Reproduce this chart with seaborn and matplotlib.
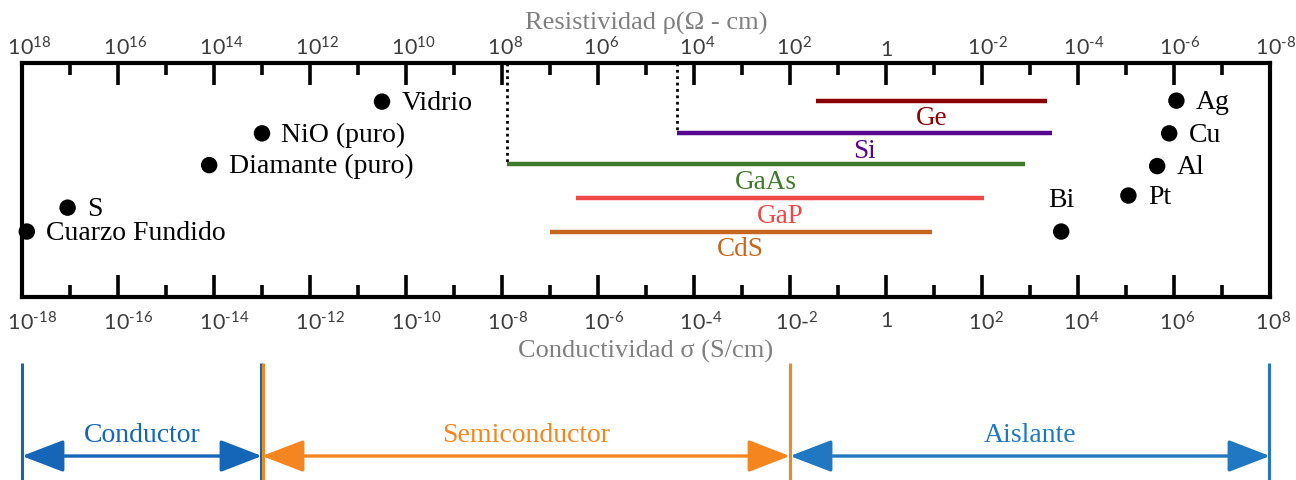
import matplotlib
matplotlib.use("Agg")
import matplotlib.pyplot as plt
import seaborn as sns
import pandas as pd

# ---- data -----------------------------------------------------------------
point_names = ["Cuarzo Fundido", "S", "Diamante (puro)", "NiO (puro)", "Vidrio",
               "Bi", "Pt", "Al", "Cu", "Ag"]
point_log_sigma = [-17.9, -17.05, -14.1, -13.0, -10.5, 3.65, 5.05, 5.65, 5.9, 6.05]

band_names = ["Ge", "Si", "GaAs", "GaP", "CdS"]
band_log_low = [-1.45, -4.35, -7.9, -6.45, -7.0]
band_log_high = [3.35, 3.45, 2.9, 2.05, 0.95]

region_names = ["Conductor", "Semiconductor", "Aislante"]
region_edges = [-18, -13, -2, 8]

decades = list(range(-18, 9))
major_exps = list(range(-18, 9, 2))

# ---- layout / style -------------------------------------------------------
point_rows = [4, 3.27, 1.97, 1, 0.03, 4, 2.9, 2, 1, 0]
band_rows = [0, 1, 1.94, 2.97, 4]
band_colors = ["#8b0000", "#55088f", "#3f7a2a", "#f04848", "#c8651e"]
region_colors = ["#1565b8", "#f5861f", "#1f78c1"]

sns.set_theme(style="white")
plt.rcParams["font.family"] = ["Liberation Serif", "DejaVu Serif"]
plt.rcParams["mathtext.fontset"] = "custom"
plt.rcParams["mathtext.rm"] = "Lato"
plt.rcParams["mathtext.it"] = "Lato:italic"
plt.rcParams["mathtext.bf"] = "Lato:bold"

fig = plt.figure(figsize=(12.96, 4.81), dpi=100)
W, H = 1296, 481
ax = fig.add_axes([22 / W, 1 - 298 / H, (1270 - 22) / W, (298 - 64) / H])
ax.set_xlim(-18, 8)
ax.set_ylim(6.0, -1.15)

# box and ticks
for sp in ax.spines.values():
    sp.set_visible(True)
    sp.set_color("black")
    sp.set_linewidth(3.0)


def _sup_width(s):
    # approximate width of a superscript, in mathtext \hspace units
    em = sum(0.35 if ch == "-" else 0.58 for ch in s) * 0.7
    return em / 0.87


def power_label(e, hyphen_inline=False):
    """'10' centred on the tick, exponent hanging to the right."""
    if e == 0:
        return "1"
    if e < 0 and hyphen_inline:
        exp = str(-e)
        lead = _sup_width(exp) + 0.35 / 0.87
        return r"$\hspace{%.3f}$10-$\mathregular{^{%s}}$" % (lead, exp)
    if e < 0:
        exp = str(-e)
        lead = _sup_width("-" + exp)
        return r"$\hspace{%.3f}$10$\mathregular{^{\text{-}%s}}$" % (lead, exp)
    exp = str(e)
    lead = _sup_width(exp)
    return r"$\hspace{%.3f}$10$\mathregular{^{%s}}$" % (lead, exp)


tick_font = dict(family="Lato", size=15.5)

ax.set_xticks(major_exps, [power_label(e, hyphen_inline=e in (-4, -2)) for e in major_exps])
ax.set_xticks([d for d in decades if d % 2], minor=True)
ax.set_yticks([])
ax.tick_params(axis="x", which="major", direction="in", length=16, width=2.6,
               color="black", bottom=True, top=False, labelcolor="#3c3c3c", pad=9.5)
ax.tick_params(axis="x", which="minor", direction="in", length=8.5, width=2.6,
               color="black", bottom=True, top=False)
for lab in ax.get_xticklabels():
    lab.set_fontproperties(tick_font)
ax.set_xlabel("Conductividad σ (S/cm)", fontsize=19, color="#7f7f7f", labelpad=4)

top = ax.secondary_xaxis("top")
top.set_xticks(major_exps, [power_label(-e) for e in major_exps])
top.set_xticks([d for d in decades if d % 2], minor=True)
top.tick_params(axis="x", which="major", direction="in", length=16, width=2.6,
                color="black", labelcolor="#3c3c3c", pad=3)
top.tick_params(axis="x", which="minor", direction="in", length=8.5, width=2.6,
                color="black")
for lab in top.get_xticklabels():
    lab.set_fontproperties(tick_font)
top.spines["top"].set_visible(False)
top.set_xlabel("Resistividad ρ(Ω - cm)", fontsize=19, color="#7f7f7f", labelpad=5)

# materials with a single value
pts = pd.DataFrame({"name": point_names, "logsigma": point_log_sigma, "row": point_rows})
sns.scatterplot(data=pts, x="logsigma", y="row", ax=ax, color="black", s=140,
                edgecolor="none", clip_on=False, zorder=5, legend=False)
for name, x, y in zip(point_names, point_log_sigma, point_rows):
    if name == "Bi":
        ax.annotate(name, (x, y), xytext=(0, 23), textcoords="offset points",
                    ha="center", va="center", fontsize=20, color="black")
    else:
        ax.annotate(name, (x, y), xytext=(14, -0.5), textcoords="offset points",
                    ha="left", va="center", fontsize=20, color="black")

# semiconductor ranges
for name, lo, hi, y, c in zip(band_names, band_log_low, band_log_high, band_rows, band_colors):
    ax.hlines(y, lo, hi, color=c, lw=3.2, zorder=3)
    ax.annotate(name, ((lo + hi) / 2, y), xytext=(0, -12.5), textcoords="offset points",
                ha="center", va="center", fontsize=19.5, color=c)

# dotted drops from the top axis to the lower ends of Si and GaAs
for name in ("Si", "GaAs"):
    i = band_names.index(name)
    ax.vlines(band_log_low[i], ax.get_ylim()[1], band_rows[i], colors="black",
              linestyles=(0, (1, 1.3)), lw=2.0, zorder=2)

# classification bands underneath
axb = fig.add_axes([22 / W, 0, (1270 - 22) / W, (481 - 364) / H], sharex=ax)
axb.set_ylim(0, 1)
axb.axis("off")
axb.vlines(region_edges[0], 0, 1, color=region_colors[0], lw=2.2, clip_on=False)
axb.vlines(region_edges[1] - 0.02, 0, 1, color=region_colors[0], lw=2.2, clip_on=False)
axb.vlines(region_edges[1] + 0.02, 0, 1, color=region_colors[1], lw=2.2, clip_on=False)
axb.vlines(region_edges[2], 0, 1, color=region_colors[1], lw=2.2, clip_on=False)
axb.vlines(region_edges[3] - 0.03, 0, 1, color=region_colors[2], lw=2.2, clip_on=False)
for name, lo, hi, c in zip(region_names, region_edges[:-1], region_edges[1:], region_colors):
    axb.annotate("", xy=(hi, 0.205), xytext=(lo, 0.205),
                 arrowprops=dict(arrowstyle="<|-|>,head_length=1.3,head_width=0.5",
                                 color=c, lw=2.4, shrinkA=0, shrinkB=0,
                                 mutation_scale=20), annotation_clip=False)
    axb.text((lo + hi) / 2, 0.39, name, ha="center", va="center", fontsize=20, color=c)

fig.savefig("out.png", dpi=100)
